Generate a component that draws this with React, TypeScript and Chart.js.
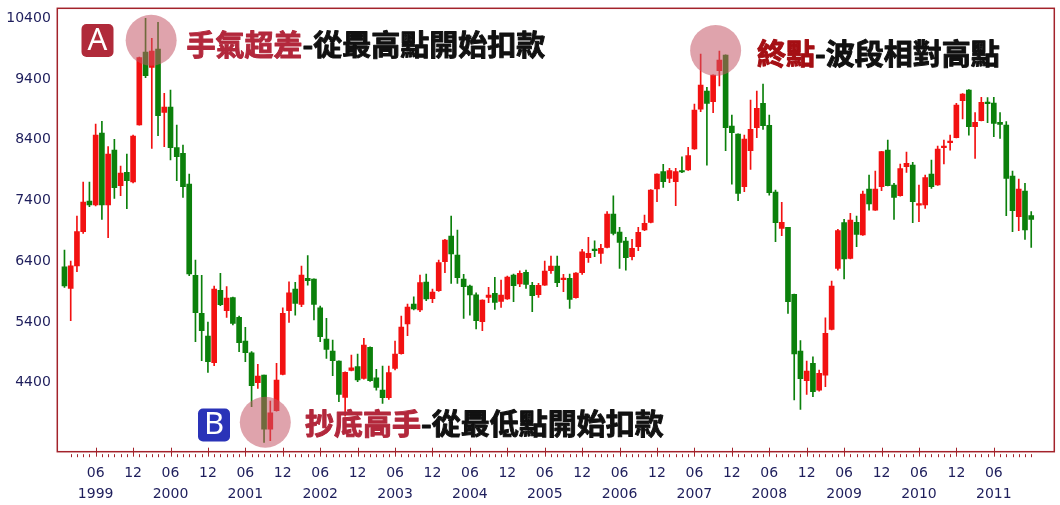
import React, { useEffect, useRef } from 'react';
import { Chart, registerables } from 'chart.js';

Chart.register(...registerables);

const yearLabels = ['1999', '2000', '2001', '2002', '2003', '2004', '2005', '2006', '2007', '2008', '2009', '2010', '2011'];
const monthCodes = ['01', '02', '03', '04', '05', '06', '07', '08', '09', '10', '11', '12'];
const months = yearLabels.flatMap((y) => monthCodes.map((m) => `${y}-${m}`));

const opens = [
  6310, 5954, 6321, 6887, 7392, 7326, 8511, 7326, 8232, 7644, 7864, 7705,
  8643, 9845, 9593, 9895, 8852, 8940, 8270, 8177, 7672, 6168, 5542, 5169,
  4730, 5921, 5586, 5800, 5476, 5086, 4894, 4400, 4526, 3637, 3939, 4537,
  5586, 5943, 5690, 6118, 6107, 5635, 5119, 4922, 4757, 4159, 4603, 4664,
  4472, 4982, 4482, 4279, 4153, 4636, 4880, 5366, 5696, 5597, 6058, 5783,
  5915, 6393, 6815, 6502, 6107, 5992, 5849, 5405, 5805, 5871, 5739, 5778,
  6173, 6025, 6217, 6003, 5849, 6008, 6244, 6321, 6096, 6119, 5800, 6211,
  6458, 6596, 6530, 6628, 7177, 6881, 6733, 6475, 6639, 6914, 7040, 7589,
  7875, 7765, 7710, 7880, 7902, 8248, 8906, 9203, 9027, 9538, 9796, 8626,
  8495, 7628, 8220, 8599, 9000, 8637, 7540, 6941, 6958, 5855, 4922, 4433,
  4718, 4279, 4526, 5278, 6283, 7035, 6448, 7040, 6832, 7589, 7243, 7628,
  8231, 7655, 7479, 7957, 7984, 7325, 7326, 7836, 7655, 8270, 8352, 8434,
  9044, 9219, 8616, 8714, 9022, 9005, 8687, 8643, 7803, 7133, 7556, 7150,
];
const highs = [
  6585, 6404, 7145, 7705, 7705, 8660, 8704, 8287, 8407, 7968, 8166, 8478,
  9760, 10400, 10070, 10334, 9165, 9220, 8643, 8314, 7836, 6420, 6168, 5399,
  5992, 6201, 5981, 5810, 5498, 5311, 4911, 4702, 4526, 4098, 4719, 5635,
  6063, 6052, 6321, 6492, 6110, 5663, 5460, 5103, 4760, 4580, 4856, 4872,
  5130, 4990, 4620, 4675, 4675, 5086, 5498, 5696, 5816, 6173, 6190, 5943,
  6420, 6760, 7145, 6914, 6184, 6008, 5882, 5765, 5970, 6135, 6091, 6157,
  6190, 6244, 6255, 6052, 6036, 6404, 6486, 6486, 6184, 6190, 6215, 6596,
  6793, 6738, 6678, 7216, 7479, 6958, 6793, 6760, 6958, 7161, 7580, 7840,
  7995, 7929, 7929, 8121, 8275, 8989, 9812, 9263, 9470, 9861, 9800, 8807,
  8500, 8478, 9055, 9203, 9318, 8808, 7573, 7370, 6960, 5860, 5092, 4757,
  4828, 4609, 5470, 6074, 6925, 7090, 7188, 7145, 7556, 7820, 7886, 8210,
  8396, 7683, 8001, 8198, 8028, 7655, 7820, 8067, 8297, 8396, 8478, 9000,
  9160, 9225, 8846, 9099, 9093, 9099, 8846, 8698, 7885, 7754, 7682, 7216,
];
const lows = [
  5970, 5421, 6228, 6860, 7300, 7310, 7090, 6788, 7436, 7480, 7266, 7690,
  8640, 9423, 8259, 8468, 8287, 8067, 7727, 7452, 6162, 5076, 4762, 4570,
  4680, 5668, 5476, 5350, 4911, 4746, 4005, 4307, 3418, 3445, 3930, 4530,
  5394, 5514, 5652, 6008, 5432, 5075, 4801, 4515, 4087, 3850, 4595, 4417,
  4460, 4420, 4279, 4060, 4126, 4609, 4870, 5174, 5600, 5569, 5750, 5717,
  5905, 6211, 6036, 6036, 5460, 5514, 5284, 5256, 5717, 5607, 5641, 5770,
  5734, 5981, 5953, 5569, 5805, 6000, 6201, 5981, 5899, 5625, 5790, 6184,
  6382, 6475, 6365, 6620, 6832, 6283, 6255, 6420, 6574, 6905, 7030, 7380,
  7616, 7693, 7315, 7858, 7895, 8240, 8863, 7984, 8846, 9285, 8220, 7671,
  7397, 7545, 7913, 8434, 8572, 7490, 6722, 6821, 5542, 4115, 3961, 4208,
  4170, 4260, 4334, 5270, 6255, 6107, 6440, 6640, 6825, 7243, 7235, 7562,
  7640, 7090, 7470, 7864, 7035, 7051, 7271, 7600, 7650, 8001, 8231, 8430,
  8742, 8478, 8094, 8710, 8681, 8451, 8423, 7150, 6886, 6903, 6760, 6629,
];
const closes = [
  5992, 6326, 6887, 7375, 7326, 8478, 7326, 8166, 7611, 7853, 7727, 8462,
  9752, 9456, 9862, 8797, 8940, 8270, 8122, 7628, 6190, 5553, 5257, 4746,
  5943, 5685, 5795, 5377, 5059, 4894, 4351, 4510, 3637, 3906, 4444, 5542,
  5882, 5707, 6173, 6080, 5690, 5158, 4949, 4762, 4208, 4571, 4647, 4444,
  5020, 4433, 4323, 4153, 4565, 4872, 5318, 5646, 5613, 6047, 5778, 5893,
  6376, 6749, 6519, 6129, 5981, 5844, 5421, 5761, 5844, 5723, 5844, 6140,
  5997, 6201, 6019, 5833, 6003, 6239, 6321, 6047, 6123, 5773, 6205, 6557,
  6530, 6574, 6612, 7177, 6859, 6711, 6458, 6612, 6875, 7024, 7573, 7836,
  7710, 7891, 7875, 7870, 8138, 8890, 9302, 9000, 9466, 9713, 8599, 8517,
  7518, 8412, 8572, 8917, 8632, 7529, 7035, 7040, 5734, 4872, 4466, 4592,
  4252, 4554, 5212, 5992, 6903, 6437, 7079, 6843, 7507, 7342, 7589, 8204,
  7644, 7452, 7924, 8012, 7380, 7335, 7776, 7627, 8248, 8297, 8380, 8972,
  9153, 8616, 8687, 9016, 8994, 8670, 8654, 7765, 7232, 7589, 6914, 7090,
];

const yTickValues = [4400, 5400, 6400, 7400, 8400, 9400, 10400];
const juneLabel = '06';
const decLabel = '12';

// annotation markers (month, fractional shift, value)
const markerA = { month: '2000-03', shift: -0.1, value: 10040 };
const markerB = { month: '2001-09', shift: 0.2, value: 3750 };
const markerEnd = { month: '2007-09', shift: 0.4, value: 9870 };

const RED = '#f21111';
const GREEN = '#0b800b';
const FRAME = '#a3232b';
const NAVY = '#1e1e5c';
const PINK = 'rgba(196, 88, 104, 0.55)';
const CRIMSON = '#b3283c';
const DARKRED = '#a50f14';

export default function App() {
  const ref = useRef<HTMLCanvasElement | null>(null);

  useEffect(() => {
    const canvas = ref.current;
    if (!canvas) return;
    const idx = months.map((_, i) => i);
    const colors = idx.map((i) => (closes[i] >= opens[i] ? RED : GREEN));
    const lastIdx = months.length - 1;
    const tickIdx = idx.filter((i) => i >= 1);
    const isMajor = (i: number) => i < lastIdx && (i % 12 === 5 || i % 12 === 11);

    const decor = {
      id: 'decor',
      afterDatasetsDraw(chart: any) {
        const { ctx, scales } = chart;
        const x = scales.x;
        const y = scales.y;
        ctx.save();
        [markerA, markerB, markerEnd].forEach((m) => {
          const px = x.getPixelForValue(months.indexOf(m.month) + m.shift);
          const py = y.getPixelForValue(m.value);
          ctx.beginPath();
          ctx.arc(px, py, 25.5, 0, Math.PI * 2);
          ctx.fillStyle = PINK;
          ctx.fill();
        });
        ctx.restore();
      },
      afterDraw(chart: any) {
        const { ctx, chartArea: a, scales } = chart;
        const x = scales.x;
        ctx.save();
        // frame
        ctx.strokeStyle = FRAME;
        ctx.lineWidth = 1.5;
        ctx.strokeRect(a.left, a.top, a.right - a.left, a.bottom - a.top);
        // x tick marks
        ctx.lineWidth = 1;
        tickIdx.forEach((i) => {
          const px = Math.round(x.getPixelForValue(i)) + 0.5;
          ctx.beginPath();
          if (isMajor(i)) {
            ctx.moveTo(px, a.bottom - 4);
            ctx.lineTo(px, a.bottom + 5);
          } else {
            ctx.moveTo(px, a.bottom + 2.5);
            ctx.lineTo(px, a.bottom + 5.5);
          }
          ctx.stroke();
        });
        // badges
        const badge = (bx: number, by: number, color: string, letter: string) => {
          ctx.beginPath();
          ctx.roundRect(bx, by, 32, 33, 5);
          ctx.fillStyle = color;
          ctx.fill();
          ctx.fillStyle = '#ffffff';
          ctx.font = '31px "Noto Sans", "DejaVu Sans", sans-serif';
          ctx.textAlign = 'center';
          ctx.textBaseline = 'middle';
          ctx.fillText(letter, bx + 16, by + 17);
        };
        badge(81.5, 24, '#b02a3a', 'A');
        badge(198, 408.5, '#2a33b8', 'B');
        // texts
        const twoTone = (tx: number, ty: number, first: string, firstColor: string, rest: string) => {
          ctx.font = 'bold 29px "Noto Sans CJK TC", "Noto Sans CJK SC", sans-serif';
          ctx.textAlign = 'left';
          ctx.textBaseline = 'middle';
          ctx.lineWidth = 1;
          ctx.lineJoin = 'round';
          ctx.fillStyle = firstColor;
          ctx.strokeStyle = firstColor;
          ctx.fillText(first, tx, ty);
          ctx.strokeText(first, tx, ty);
          const w = ctx.measureText(first).width;
          ctx.fillStyle = '#111111';
          ctx.strokeStyle = '#111111';
          ctx.fillText(rest, tx + w, ty);
          ctx.strokeText(rest, tx + w, ty);
        };
        twoTone(186.5, 45, '手氣超差', CRIMSON, '-從最高點開始扣款');
        twoTone(757, 53.5, '終點', DARKRED, '-波段相對高點');
        twoTone(305, 423.5, '抄底高手', CRIMSON, '-從最低點開始扣款');
        ctx.restore();
      },
    };

    const chart = new Chart(canvas, {
      type: 'bar',
      data: {
        datasets: [
          {
            label: 'body',
            data: idx.map((i) => ({ x: i, y: [opens[i], closes[i]] })) as any,
            backgroundColor: colors,
            borderWidth: 0,
            barThickness: 5,
            grouped: false,
            minBarLength: 1.5,
          } as any,
          {
            label: 'wick',
            data: idx.map((i) => ({ x: i, y: [lows[i], highs[i]] })) as any,
            backgroundColor: colors,
            borderWidth: 0,
            barThickness: 1,
            grouped: false,
          } as any,
        ],
      },
      options: {
        responsive: false,
        animation: false,
        devicePixelRatio: 1,
        layout: { padding: { top: 8.3, right: 5.7, left: 0, bottom: 0 } },
        plugins: { legend: { display: false }, tooltip: { enabled: false } },
        scales: {
          x: {
            type: 'linear',
            min: -1.15,
            max: 158.7,
            offset: false,
            grid: { display: false, drawTicks: false },
            border: { display: false },
            afterBuildTicks: (s: any) => {
              s.ticks = tickIdx.map((v) => ({ value: v }));
            },
            afterFit: (s: any) => {
              s.height = 53.3;
              s.paddingLeft = 0;
              s.paddingRight = 0;
            },
            ticks: {
              autoSkip: false,
              maxRotation: 0,
              minRotation: 0,
              padding: 12,
              color: NAVY,
              font: { family: '"DejaVu Sans", sans-serif', size: 14, lineHeight: 1.45 },
              callback: (v: any) => {
                const i = Number(v);
                if (!isMajor(i)) return '';
                if (i % 12 === 5) return [juneLabel, yearLabels[Math.floor(i / 12)]];
                return decLabel;
              },
            },
          },
          y: {
            type: 'linear',
            min: 3264,
            max: 10565,
            grid: { display: false, drawTicks: false },
            border: { display: false },
            afterBuildTicks: (s: any) => {
              s.ticks = yTickValues.map((v) => ({ value: v }));
            },
            afterFit: (s: any) => {
              s.width = 57.3;
              s.paddingTop = 0;
              s.paddingBottom = 0;
            },
            ticks: {
              padding: 6.5,
              color: NAVY,
              font: { family: '"DejaVu Sans", sans-serif', size: 14 },
              callback: (v: any) => String(v),
            },
          },
        },
      },
      plugins: [decor],
    });
    return () => chart.destroy();
  }, []);

  return (
    <div style={{ position: 'fixed', left: 0, top: 0, width: 1060, height: 505, background: '#ffffff' }}>
      <canvas ref={ref} width={1060} height={505} style={{ display: 'block' }} />
    </div>
  );
}
